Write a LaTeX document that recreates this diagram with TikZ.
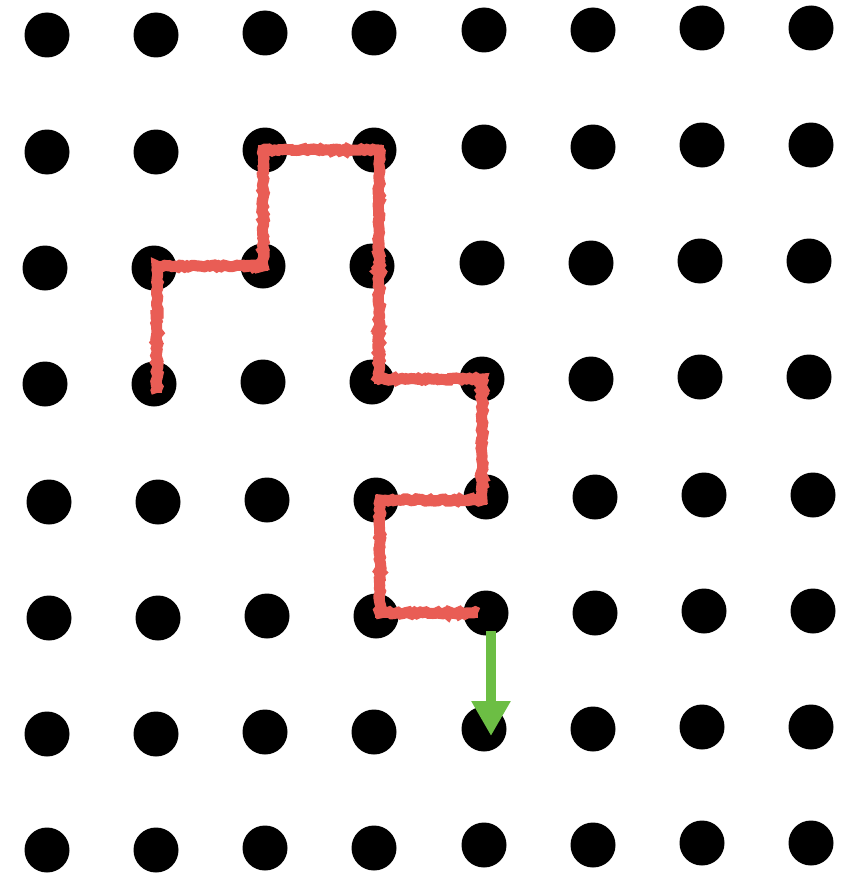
\documentclass[tikz,border=0pt]{standalone}
\usepackage{tikz}
\usetikzlibrary{arrows.meta,decorations.pathmorphing}

\definecolor{chalkred}{RGB}{233,93,85}
\definecolor{arrowgreen}{RGB}{108,190,68}

\begin{document}
\begin{tikzpicture}[x=1pt, y=-1pt,
  dot/.style={circle, fill=black, inner sep=0pt, minimum size=45pt},
  walk/.style={draw=chalkred, line width=10pt, line join=miter},
  chalk/.style={walk, line width=11pt, decorate,
    decoration={random steps, segment length=2.5pt, amplitude=1.2pt}},
  nextstep/.style={draw=arrowgreen, line width=10pt, -{Triangle[length=35pt, width=37pt]}}]
  \useasboundingbox (0,0) rectangle (848,875);
  % grid of dots, rows slightly skewed
  \foreach \r/\xr/\yr in {1/47/35,2/47/152,3/45/268,4/45/384,5/49/502,6/49/618,7/47/734,8/47/850}{
    \foreach \c/\xc/\yc in {1/0/0,2/109/0,3/218/-2,4/327/-2,5/437/-5,6/546/-5,7/655/-7,8/764/-7}{
      \node[dot] (d-\r-\c) at (\xr+\xc,\yr+\yc) {};}}
  % the walk so far
  \foreach \sty in {walk,chalk}{
    \draw[\sty] ([xshift=3pt,yshift=-9pt]d-4-2.center) |- (d-3-3.center) |- ([xshift=5pt]d-2-4.center)
      |- (d-4-5.center) |- ([xshift=4pt]d-5-4.center) |- ([xshift=-8pt]d-6-5.center);}
  % next move
  \draw[nextstep] ([xshift=5pt,yshift=-18pt]d-6-5.center) -- ([xshift=7pt,yshift=-7pt]d-7-5.center);
\end{tikzpicture}
\end{document}
